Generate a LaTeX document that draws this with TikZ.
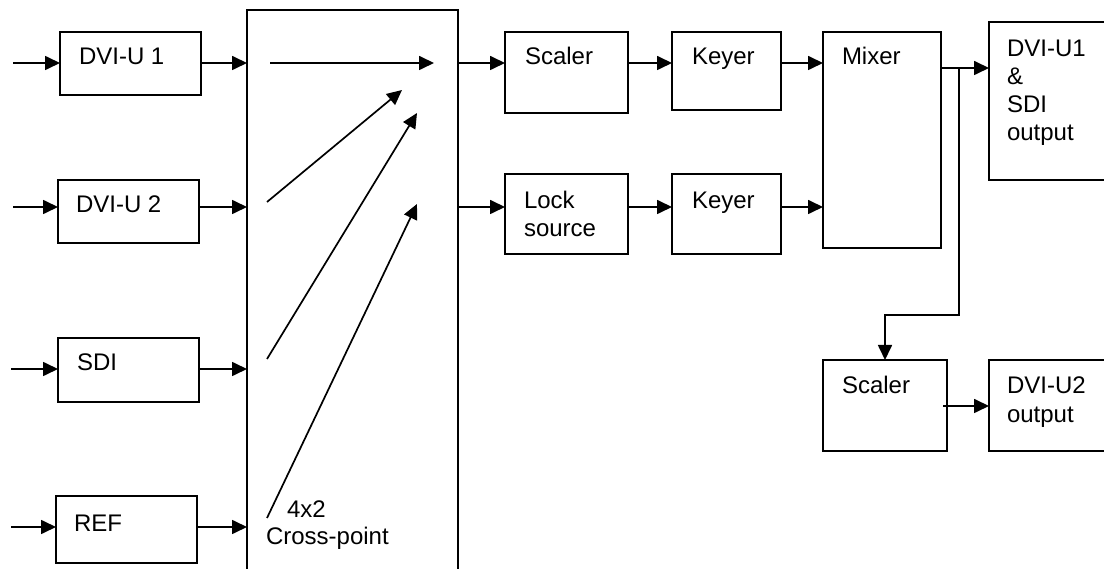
\documentclass[tikz,border=0pt]{standalone}
\usepackage{fontspec}
\setmainfont{Liberation Sans}
\usetikzlibrary{arrows.meta}
\begin{document}
\begin{tikzpicture}[x=1pt,y=-1pt,
  blk/.style={draw,line width=1.7pt,inner sep=0pt,outer sep=0pt,anchor=north west},
  lbl/.style={anchor=base west,inner sep=0pt,outer sep=0pt,font=\fontsize{24}{28}\selectfont},
  conn/.style={line width=1.7pt,-{Triangle[length=15pt,width=14pt]}},
  ln/.style={line width=1.7pt}]
\useasboundingbox (0,0) rectangle (1104,569);
\clip (0,0) rectangle (1104,569);
% boxes
\node[blk,minimum width=141pt,minimum height=63pt] (dvi1) at (60,32) {};
\node[blk,minimum width=141pt,minimum height=63pt] (dvi2) at (58,180) {};
\node[blk,minimum width=141pt,minimum height=64pt] (sdi) at (58,338) {};
\node[blk,minimum width=141pt,minimum height=67pt] (ref) at (56,496) {};
\node[blk,minimum width=211pt,minimum height=580pt] (xp) at (247,10) {};
\node[blk,minimum width=123pt,minimum height=81pt] (scal) at (505,32) {};
\node[blk,minimum width=109pt,minimum height=78pt] (key1) at (672,32) {};
\node[blk,minimum width=118pt,minimum height=216pt] (mix) at (823,32) {};
\node[blk,minimum width=140pt,minimum height=158pt] (out1) at (989,22) {};
\node[blk,minimum width=123pt,minimum height=80pt] (lock) at (505,174) {};
\node[blk,minimum width=109pt,minimum height=80pt] (key2) at (672,174) {};
\node[blk,minimum width=124pt,minimum height=91pt] (scal2) at (823,360) {};
\node[blk,minimum width=140pt,minimum height=91pt] (out2) at (989,360) {};
% labels
\node[lbl] (t1) at (79,65) {DVI-U 1};
\node[lbl] (t2) at (76,213) {DVI-U 2};
\node[lbl] (t3) at (77,371) {SDI};
\node[lbl] (t4) at (74,531) {REF};
\node[lbl] (t5) at (287,517) {4x2};
\node[lbl] (t6) at (266,544) {Cross-point};
\node[lbl] (t7) at (525,65) {Scaler};
\node[lbl] (t8) at (692,65) {Keyer};
\node[lbl] (t9) at (842,65) {Mixer};
\node[lbl] (t10) at (1007,57) {DVI-U1};
\node[lbl] (t11) at (1007,85) {\&};
\node[lbl] (t12) at (1007,113) {SDI};
\node[lbl] (t13) at (1007,141) {output};
\node[lbl] (t14) at (524,209) {Lock};
\node[lbl] (t15) at (524,237) {source};
\node[lbl] (t16) at (692,209) {Keyer};
\node[lbl] (t17) at (842,394) {Scaler};
\node[lbl] (t18) at (1007,394) {DVI-U2};
\node[lbl] (t19) at (1007,423) {output};
% coordinates
\coordinate (in1) at (13,63);
\coordinate (in2) at (13,207);
\coordinate (in3) at (11,369);
\coordinate (in4) at (11,527);
\coordinate (o1) at (941,68);
\coordinate (br) at (959,68);
\coordinate (bk) at (959,315);
\coordinate (s2) at (943,406);
\coordinate (a1s) at (270,63);
\coordinate (a1e) at (434,63);
\coordinate (a2s) at (267,202);
\coordinate (a2e) at (402,90);
\coordinate (a3s) at (267,359);
\coordinate (a3e) at (417,113);
\coordinate (a4s) at (267,518);
\coordinate (a4e) at (417,204);
% input arrows
\draw[conn] (in1) -- (in1 -| dvi1.west);
\draw[conn] (in2) -- (in2 -| dvi2.west);
\draw[conn] (in3) -- (in3 -| sdi.west);
\draw[conn] (in4) -- (in4 -| ref.west);
\draw[conn] (in1 -| dvi1.east) -- (in1 -| xp.west);
\draw[conn] (in2 -| dvi2.east) -- (in2 -| xp.west);
\draw[conn] (in3 -| sdi.east) -- (in3 -| xp.west);
\draw[conn] (in4 -| ref.east) -- (in4 -| xp.west);
% cross-point arrows
\draw[conn] (a1s) -- (a1e);
\draw[conn] (a2s) -- (a2e);
\draw[conn] (a3s) -- (a3e);
\draw[conn] (a4s) -- (a4e);
% right side
\draw[conn] (in1 -| xp.east) -- (in1 -| scal.west);
\draw[conn] (in2 -| xp.east) -- (in2 -| lock.west);
\draw[conn] (in1 -| scal.east) -- (in1 -| key1.west);
\draw[conn] (in1 -| key1.east) -- (in1 -| mix.west);
\draw[conn] (in2 -| lock.east) -- (in2 -| key2.west);
\draw[conn] (in2 -| key2.east) -- (in2 -| mix.west);
\draw[conn] (o1 -| mix.east) -- (o1 -| out1.west);
\draw[conn] (br) -- (bk) -| (scal2.north);
\draw[conn] (s2) -- (s2 -| out2.west);
\end{tikzpicture}
\end{document}
